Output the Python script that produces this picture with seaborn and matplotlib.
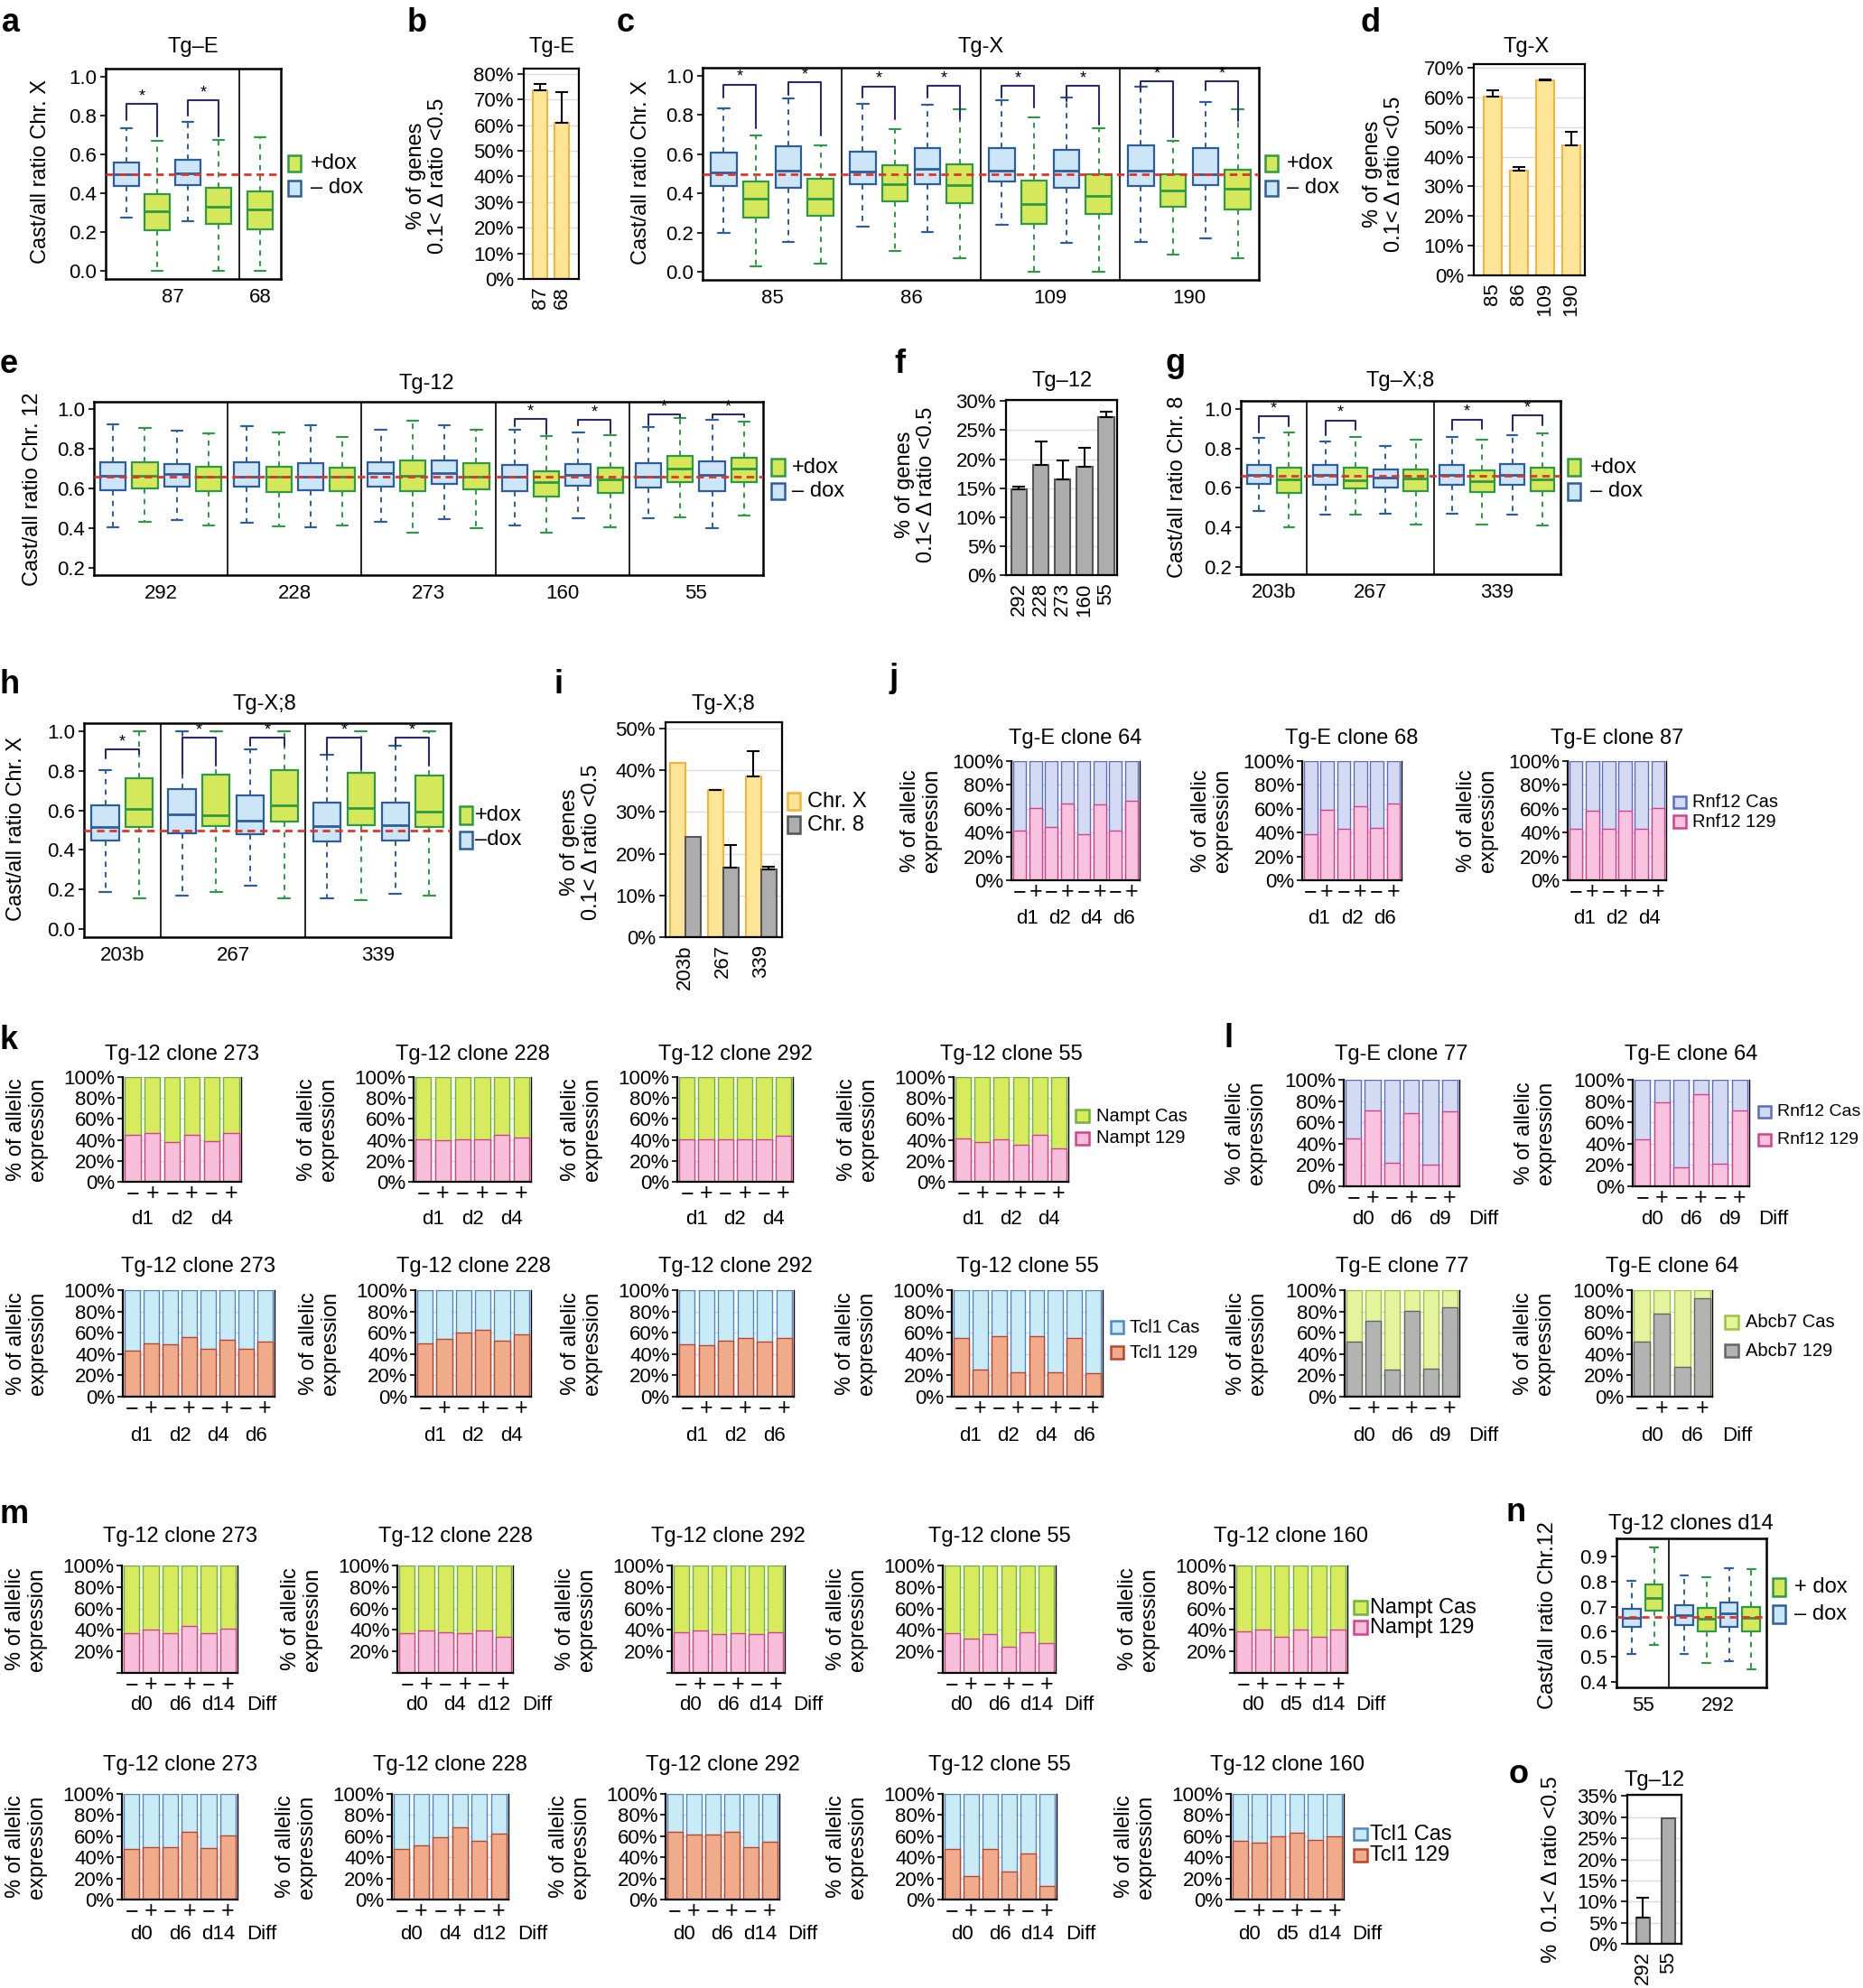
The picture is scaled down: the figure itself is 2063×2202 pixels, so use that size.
import numpy as np
import pandas as pd
import matplotlib
matplotlib.use("Agg")
import matplotlib.pyplot as plt
from matplotlib.patches import Rectangle
import seaborn as sns

# ---------------- values ----------------
# box stats: [lower whisker, Q1, median, Q3, upper whisker]
a_clones = ["87", "68"]
a_nbox = [4, 1]
a_dox = ["-", "+", "-", "+", "+"]
a_box = [[0.273, 0.436, 0.498, 0.556, 0.732],
         [0.000, 0.208, 0.308, 0.395, 0.668],
         [0.257, 0.443, 0.502, 0.574, 0.767],
         [0.000, 0.242, 0.329, 0.429, 0.675],
         [0.000, 0.216, 0.319, 0.409, 0.689]]
# significance brackets: left box, right box, top, left leg end, right leg end
a_pairs = [(0, 1, 0.858, 0.778, 0.694), (2, 3, 0.877, 0.800, 0.694)]

b_clones = ["87", "68"]
b_pct = [73.4, 60.8]
b_err = [2.7, 12.2]

c_clones = ["85", "86", "109", "190"]
c_nbox = [4, 4, 4, 4]
c_dox = ["-", "+"] * 8
c_box = [[0.198, 0.438, 0.505, 0.606, 0.835], [0.031, 0.279, 0.374, 0.461, 0.695],
         [0.154, 0.431, 0.516, 0.640, 0.882], [0.044, 0.285, 0.374, 0.476, 0.646],
         [0.229, 0.449, 0.510, 0.614, 0.856], [0.107, 0.362, 0.447, 0.544, 0.727],
         [0.203, 0.449, 0.524, 0.632, 0.853], [0.069, 0.351, 0.441, 0.547, 0.829],
         [0.240, 0.460, 0.516, 0.632, 0.876], [0.000, 0.244, 0.347, 0.464, 0.786],
         [0.148, 0.431, 0.518, 0.623, 0.889], [0.000, 0.295, 0.386, 0.496, 0.730],
         [0.151, 0.438, 0.516, 0.643, 0.945], [0.090, 0.334, 0.417, 0.499, 0.667],
         [0.171, 0.444, 0.499, 0.632, 0.867], [0.069, 0.319, 0.426, 0.522, 0.827]]
c_pairs = [(0, 1, 0.954, 0.890, 0.733), (2, 3, 0.965, 0.901, 0.695),
           (4, 5, 0.944, 0.890, 0.779), (6, 7, 0.947, 0.890, 0.779),
           (8, 9, 0.947, 0.890, 0.840), (10, 11, 0.947, 0.870, 0.751),
           (12, 13, 0.969, 0.924, 0.687), (14, 15, 0.969, 0.924, 0.771)]

d_clones = ["85", "86", "109", "190"]
d_pct = [60.3, 35.2, 65.6, 43.7]
d_err = [2.0, 1.4, 0.5, 4.7]

e_clones = ["292", "228", "273", "160", "55"]
e_nbox = [4, 4, 4, 4, 4]
e_dox = ["-", "+"] * 10
e_box = [[0.404, 0.592, 0.663, 0.730, 0.922], [0.431, 0.601, 0.662, 0.730, 0.903],
         [0.441, 0.611, 0.671, 0.724, 0.890], [0.413, 0.588, 0.657, 0.709, 0.876],
         [0.429, 0.609, 0.660, 0.731, 0.912], [0.410, 0.582, 0.657, 0.709, 0.881],
         [0.404, 0.592, 0.660, 0.728, 0.917], [0.416, 0.585, 0.660, 0.703, 0.857],
         [0.432, 0.609, 0.675, 0.733, 0.893], [0.377, 0.585, 0.663, 0.739, 0.940],
         [0.448, 0.621, 0.679, 0.742, 0.917], [0.399, 0.594, 0.660, 0.725, 0.893],
         [0.414, 0.586, 0.660, 0.718, 0.893], [0.377, 0.559, 0.633, 0.688, 0.863],
         [0.452, 0.615, 0.669, 0.722, 0.881], [0.407, 0.579, 0.645, 0.706, 0.869],
         [0.452, 0.603, 0.660, 0.725, 0.906], [0.455, 0.633, 0.701, 0.763, 0.955],
         [0.399, 0.588, 0.668, 0.736, 0.944], [0.464, 0.633, 0.701, 0.755, 0.935]]
e_pairs = [(12, 13, 0.947, 0.912, 0.872), (14, 15, 0.944, 0.917, 0.875),
           (16, 17, 0.970, 0.917, 0.960), (18, 19, 0.970, 0.955, 0.960)]

f_clones = ["292", "228", "273", "160", "55"]
f_pct = [14.8, 19.0, 16.5, 18.7, 27.3]
f_err = [0.5, 4.1, 3.2, 3.3, 0.8]

g_clones = ["203b", "267", "339"]
g_nbox = [2, 4, 4]
g_dox = ["-", "+"] * 5
g_box = [[0.482, 0.619, 0.665, 0.718, 0.855], [0.403, 0.573, 0.645, 0.701, 0.881],
         [0.467, 0.616, 0.665, 0.715, 0.837], [0.464, 0.596, 0.639, 0.703, 0.858],
         [0.470, 0.604, 0.654, 0.695, 0.812], [0.416, 0.584, 0.650, 0.695, 0.843],
         [0.470, 0.614, 0.665, 0.718, 0.860], [0.415, 0.579, 0.634, 0.691, 0.845],
         [0.467, 0.616, 0.665, 0.720, 0.866], [0.409, 0.584, 0.642, 0.701, 0.875]]
g_pairs = [(0, 1, 0.962, 0.881, 0.912), (2, 3, 0.942, 0.866, 0.893),
           (6, 7, 0.947, 0.896, 0.901), (8, 9, 0.966, 0.890, 0.916)]

h_clones = ["203b", "267", "339"]
h_nbox = [2, 4, 4]
h_dox = ["-", "+"] * 5
h_box = [[0.189, 0.447, 0.515, 0.624, 0.803], [0.156, 0.515, 0.606, 0.761, 1.000],
         [0.170, 0.485, 0.579, 0.706, 1.000], [0.189, 0.520, 0.576, 0.779, 1.000],
         [0.220, 0.479, 0.550, 0.674, 0.906], [0.156, 0.545, 0.624, 0.803, 1.000],
         [0.156, 0.445, 0.520, 0.639, 0.879], [0.147, 0.523, 0.611, 0.788, 1.000],
         [0.179, 0.448, 0.527, 0.639, 0.927], [0.170, 0.515, 0.595, 0.776, 1.000]]
h_pairs = [(0, 1, 0.906, 0.864, 0.886), (2, 3, 0.965, 0.785, 0.826),
           (4, 5, 0.965, 0.924, 0.924), (6, 7, 0.967, 0.879, 0.806),
           (8, 9, 0.967, 0.924, 0.826)]

i_clones = ["203b", "267", "339"]
i_chrx = [41.8, 35.2, 38.5]
i_chrx_err = [0.0, 0.1, 6.0]
i_chr8 = [24.1, 16.6, 16.2]
i_chr8_err = [0.0, 5.5, 0.7]

# allelic expression: share of the 129 allele (%), rest is Cas
j_titles = ["Tg-E clone 64", "Tg-E clone 68", "Tg-E clone 87"]
j_days = [["d1", "d2", "d4", "d6"], ["d1", "d2", "d6"], ["d1", "d2", "d4"]]
j_rnf12_129 = [[41.3, 60.3, 44.6, 64.6, 38.5, 63.5, 41.8, 66.8],
               [38.5, 59.0, 43.0, 62.0, 43.8, 64.3],
               [43.0, 58.2, 43.5, 58.7, 43.0, 60.3]]

k_titles = ["Tg-12 clone 273", "Tg-12 clone 228", "Tg-12 clone 292", "Tg-12 clone 55"]
k_nampt_days = [["d1", "d2", "d4"]] * 4
k_nampt_129 = [[44.4, 46.7, 37.8, 44.4, 38.6, 46.4],
               [40.9, 39.5, 40.9, 40.9, 44.7, 42.1],
               [40.1, 40.9, 40.6, 40.1, 40.1, 44.1],
               [41.8, 38.0, 40.9, 35.2, 44.7, 31.7]]
k_tcl1_days = [["d1", "d2", "d4", "d6"], ["d1", "d2", "d4"], ["d1", "d2", "d6"], ["d1", "d2", "d4", "d6"]]
k_tcl1_129 = [[43.1, 49.6, 49.0, 56.1, 45.3, 53.8, 45.3, 52.1],
              [50.4, 54.4, 60.1, 62.9, 52.7, 58.4],
              [49.3, 48.7, 52.7, 55.2, 51.6, 55.2],
              [55.2, 25.8, 56.7, 22.7, 57.2, 22.7, 55.2, 21.8]]

l_titles = ["Tg-E clone 77", "Tg-E clone 64"]
l_rnf12_days = [["d0", "d6", "d9"], ["d0", "d6", "d9"]]
l_rnf12_129 = [[45.2, 71.2, 22.3, 68.4, 20.3, 70.3],
               [43.8, 78.8, 17.5, 86.4, 21.2, 71.2]]
l_abcb7_days = [["d0", "d6", "d9"], ["d0", "d6"]]
l_abcb7_129 = [[51.8, 71.6, 25.8, 80.2, 26.3, 83.8],
               [51.3, 77.6, 28.0, 92.4]]

m_titles = ["Tg-12 clone 273", "Tg-12 clone 228", "Tg-12 clone 292", "Tg-12 clone 55", "Tg-12 clone 160"]
m_days = [["d0", "d6", "d14"], ["d0", "d4", "d12"], ["d0", "d6", "d14"], ["d0", "d6", "d14"], ["d0", "d5", "d14"]]
m_nampt_129 = [[37.3, 40.1, 37.3, 43.7, 37.3, 41.5],
               [36.8, 39.6, 38.2, 36.8, 39.6, 33.2],
               [37.9, 39.6, 36.2, 37.3, 36.2, 37.9],
               [37.3, 32.1, 36.2, 24.3, 38.2, 27.6],
               [39.0, 40.1, 34.0, 40.1, 34.0, 40.1]]
m_tcl1_129 = [[47.6, 49.6, 49.6, 63.7, 49.0, 60.9],
              [48.2, 51.3, 59.2, 68.8, 55.2, 62.0],
              [63.7, 61.8, 61.5, 63.7, 49.9, 54.7],
              [47.6, 22.1, 47.6, 26.3, 43.3, 13.0],
              [55.5, 54.1, 59.8, 63.2, 56.1, 59.8]]

n_clones = ["55", "292"]
n_nbox = [2, 4]
n_dox = ["-", "+"] * 3
n_box = [[0.511, 0.621, 0.657, 0.693, 0.803], [0.546, 0.685, 0.733, 0.789, 0.936],
         [0.511, 0.627, 0.666, 0.707, 0.825], [0.475, 0.603, 0.651, 0.694, 0.816],
         [0.484, 0.621, 0.672, 0.717, 0.855], [0.450, 0.600, 0.657, 0.699, 0.849]]

o_clones = ["292", "55"]
o_pct = [6.3, 29.8]
o_err = [4.6, 0.0]

# ---------------- style ----------------
sns.set_style("ticks")
plt.rcParams["font.family"] = ["Liberation Sans", "DejaVu Sans"]
plt.rcParams["axes.edgecolor"] = "black"
plt.rcParams["xtick.color"] = "black"
plt.rcParams["ytick.color"] = "black"
plt.rcParams["text.color"] = "black"

TICK = 16
LAB = 17
LEG = 17
BLUE = ("#cde6f7", "#2c5e9e")
GREEN = ("#d5e85b", "#2e9a45")
RED = "#e3342b"
NAVY = "#2b2b6b"
YELLOW = ("#fde598", "#f2b43e")
GRAY = ("#adadad", "#555555")
GENE = {
    "Rnf12": ("#d5daf3", "#5a6ec0", "#f8c3de", "#d4418e"),
    "Nampt": ("#d8ea5e", "#6bb53c", "#f8bfdb", "#d4418e"),
    "Tcl1": ("#c9ebf5", "#4f86c5", "#f0ab8b", "#b9462f"),
    "Abcb7": ("#e5f39d", "#9dc441", "#b3b3b3", "#666666"),
}

W, H = 2063, 2202
fig = plt.figure(figsize=(W / 100, H / 100), dpi=100)
fig.patch.set_facecolor("white")


def add_ax(l, t, r, b):
    return fig.add_axes([l / W, 1 - b / H, (r - l) / W, (b - t) / H])


def ftext(x, y, s, **kw):
    return fig.text(x / W, 1 - y / H, s, **kw)


def letter(x, y, s):
    ftext(x, y, s, fontsize=26, fontweight="bold", ha="left", va="baseline")


def legend_px(x0, x1, rows, tx, entries, fs=LEG):
    for (y0, y1), (lab, fc, ec) in zip(rows, entries):
        fig.add_artist(Rectangle((x0 / W, 1 - y1 / H), (x1 - x0) / W, (y1 - y0) / H,
                                 transform=fig.transFigure, facecolor=fc, edgecolor=ec, lw=1.8))
        ftext(tx, (y0 + y1) / 2, lab, ha="left", va="center", fontsize=fs)


def ylab(x, y, s, fs=LAB):
    ftext(x, y, s, rotation=90, ha="center", va="center", fontsize=fs,
          multialignment="center", linespacing=1.15)


def box_panel(ax, nbox, clones, dox, stats, ylim, yticks, ref, pairs=(), pad=0.3):
    pos, centers, seps = [], [], []
    start = 0.0
    for n in nbox:
        pos += [start + pad / 2 + 0.5 + i for i in range(n)]
        centers.append(start + (n + pad) / 2)
        start += n + pad
        seps.append(start)
    pos = np.array(pos)
    for flag, (fc, ec) in (("-", BLUE), ("+", GREEN)):
        idx = [i for i, d in enumerate(dox) if d == flag]
        bst = [dict(whislo=stats[i][0], q1=stats[i][1], med=stats[i][2],
                    q3=stats[i][3], whishi=stats[i][4]) for i in idx]
        ax.bxp(bst, positions=list(pos[idx]), widths=0.8, capwidths=0.35,
               showfliers=False, patch_artist=True, manage_ticks=False,
               boxprops=dict(facecolor=fc, edgecolor=ec, linewidth=1.6),
               whiskerprops=dict(color=ec, linestyle=(0, (3, 3)), linewidth=1.4),
               capprops=dict(color=ec, linewidth=1.6),
               medianprops=dict(color=ec, linewidth=2))
    for s in seps[:-1]:
        ax.axvline(s, color="black", lw=1.2)
    ax.axhline(ref, color=RED, ls=(0, (3, 2)), lw=2, zorder=6)
    for l, r, top, yl, yr in pairs:
        ax.plot([pos[l], pos[l], pos[r], pos[r]], [yl, top, top, yr], color=NAVY, lw=1.5, zorder=7)
        ax.text((pos[l] + pos[r]) / 2, top, "*", ha="center", va="bottom", fontsize=13)
    ax.set_xlim(0, start)
    ax.set_ylim(*ylim)
    ax.set_xticks(centers)
    ax.set_xticklabels(clones)
    ax.set_yticks(yticks)
    ax.set_yticklabels([f"{v:.1f}" for v in yticks])
    ax.tick_params(axis="x", length=0, pad=7, labelsize=TICK)
    ax.tick_params(axis="y", length=4, width=1.2, pad=3, labelsize=TICK)
    for sp in ax.spines.values():
        sp.set_linewidth(1.8)


def pct_finish(ax, ymax, step, xlim):
    ax.set_ylim(0, ymax)
    ticks = np.arange(0, ymax + 0.01, step)
    ax.set_yticks(ticks)
    ax.set_yticklabels([f"{int(v)}%" for v in ticks])
    ax.yaxis.grid(True, color="#dcdcdc", lw=1)
    ax.set_axisbelow(True)
    ax.set_xlim(*xlim)
    ax.set_xlabel("")
    ax.set_ylabel("")
    ax.tick_params(axis="x", length=0, pad=6, labelsize=TICK, labelrotation=90)
    ax.tick_params(axis="y", length=5, width=1.2, pad=3, labelsize=TICK)
    for sp in ax.spines.values():
        sp.set_linewidth(1.6)


def add_err(ax, patches, errs):
    for p, e in zip(patches, errs):
        if e > 0:
            ax.errorbar(p.get_x() + p.get_width() / 2, p.get_height(), yerr=[[0], [e]],
                        fmt="none", ecolor="black", elinewidth=1.5, capsize=5, capthick=1.5)


def pct_panel(ax, clones, pct, err, colors, ymax, step, xlim, width):
    sns.barplot(x=clones, y=pct, color=colors[0], edgecolor=colors[1], linewidth=1.5,
                saturation=1, width=width, errorbar=None, ax=ax)
    add_err(ax, ax.patches, err)
    pct_finish(ax, ymax, step, xlim)


def stack_panel(ax, vals, days, gene, day_dy, diff=False, zero_label=True):
    cas_fc, cas_ec, fc129, ec129 = GENE[gene]
    n = len(vals)
    cats = [str(i) for i in range(n)]
    sns.barplot(x=cats, y=[100] * n, color=cas_fc, edgecolor=cas_ec, linewidth=1,
                saturation=1, width=0.8, errorbar=None, ax=ax)
    sns.barplot(x=cats, y=vals, color=fc129, edgecolor=ec129, linewidth=1,
                saturation=1, width=0.8, errorbar=None, ax=ax)
    ax.set_xlim(-0.5, n - 0.5)
    ax.set_ylim(0, 100)
    ticks = [0, 20, 40, 60, 80, 100]
    ax.set_yticks(ticks)
    ax.set_yticklabels([(f"{t}%" if (t or zero_label) else "") for t in ticks])
    ax.yaxis.grid(True, color="#d8d8d8", lw=1)
    ax.set_axisbelow(True)
    ax.set_xticks(range(n))
    ax.set_xticklabels(["\u2212", "+"] * (n // 2))
    ax.set_xlabel("")
    ax.set_ylabel("")
    ax.tick_params(axis="x", length=0, pad=1, labelsize=18)
    ax.tick_params(axis="y", length=4, width=1.2, pad=2, labelsize=TICK)
    ax.spines["top"].set_visible(False)
    ax.spines["left"].set_linewidth(1.6)
    ax.spines["bottom"].set_linewidth(1.6)
    ax.spines["right"].set_linewidth(1.0)
    for i, d in enumerate(days):
        ax.annotate(d, xy=(2 * i + 0.5, 0), xycoords=("data", "axes fraction"),
                    xytext=(0, -day_dy), textcoords="offset pixels",
                    ha="center", va="center", fontsize=TICK, annotation_clip=False)
    if diff:
        ax.annotate("Diff", xy=(n + 0.75, 0), xycoords=("data", "axes fraction"),
                    xytext=(0, -day_dy), textcoords="offset pixels",
                    ha="center", va="center", fontsize=TICK, annotation_clip=False)


def gene_legend(gene, x0, x1, rows, tx, fs=14.5):
    cas_fc, cas_ec, fc129, ec129 = GENE[gene]
    legend_px(x0, x1, rows, tx, [(f"{gene} Cas", cas_fc, cas_ec), (f"{gene} 129", fc129, ec129)], fs)


def dox_legend(x0, x1, rows, tx, labels):
    legend_px(x0, x1, rows, tx, [(labels[0], *GREEN), (labels[1], *BLUE)])


# ---------------- row 1: a-d ----------------
ax = add_ax(117, 76, 311, 309)
box_panel(ax, a_nbox, a_clones, a_dox, a_box, (-0.04, 1.04), [0, 0.2, 0.4, 0.6, 0.8, 1.0], 0.5, a_pairs, pad=0.35)
ftext(214, 52, "Tg\u2013E", ha="center", va="center", fontsize=LAB)
ylab(45, 190, "Cast/all ratio Chr. X")
dox_legend(319, 333, [(172, 190), (200, 217)], 344, ["+dox", "\u2013 dox"])
letter(2, 35, "a")

ax = add_ax(580, 76, 641, 309)
pct_panel(ax, b_clones, b_pct, b_err, YELLOW, 82, 10, (-0.75, 1.79), 0.67)
ftext(611, 52, "Tg-E", ha="center", va="center", fontsize=LAB)
ylab(473, 195, "% of genes\n0.1< \u0394 ratio <0.5")
letter(451, 35, "b")

ax = add_ax(778, 75, 1394, 310)
box_panel(ax, c_nbox, c_clones, c_dox, c_box, (-0.04, 1.04), [0, 0.2, 0.4, 0.6, 0.8, 1.0], 0.5, c_pairs)
ftext(1086, 52, "Tg-X", ha="center", va="center", fontsize=LAB)
ylab(710, 191, "Cast/all ratio Chr. X")
dox_legend(1401, 1415, [(172, 190), (200, 217)], 1425, ["+dox", "\u2013 dox"])
letter(683, 35, "c")

ax = add_ax(1632, 71, 1755, 305)
pct_panel(ax, d_clones, d_pct, d_err, YELLOW, 71.2, 10, (-0.72, 3.52), 0.7)
ftext(1690, 52, "Tg-X", ha="center", va="center", fontsize=LAB)
ylab(1532, 193, "% of genes\n0.1< \u0394 ratio <0.5")
letter(1506, 35, "d")

# ---------------- row 2: e-g ----------------
ax = add_ax(104, 445, 845, 637)
box_panel(ax, e_nbox, e_clones, e_dox, e_box, (0.165, 1.035), [0.2, 0.4, 0.6, 0.8, 1.0], 0.66, e_pairs, pad=0.2)
ftext(472, 425, "Tg-12", ha="center", va="center", fontsize=LAB)
ylab(36, 542, "Cast/all ratio Chr. 12")
dox_legend(854, 869, [(508, 527), (535, 553)], 877, ["+dox", "\u2013 dox"])
letter(0, 413, "e")

ax = add_ax(1114, 443, 1237, 637)
pct_panel(ax, f_clones, f_pct, f_err, GRAY, 30.2, 5, (-0.6, 4.5), 0.72)
ftext(1176, 422, "Tg\u201312", ha="center", va="center", fontsize=LAB)
ylab(1014, 537, "% of genes\n0.1< \u0394 ratio <0.5")
letter(990, 413, "f")

ax = add_ax(1374, 444, 1728, 636)
box_panel(ax, g_nbox, g_clones, g_dox, g_box, (0.163, 1.041), [0.2, 0.4, 0.6, 0.8, 1.0], 0.66, g_pairs, pad=0.2)
ftext(1551, 422, "Tg\u2013X;8", ha="center", va="center", fontsize=LAB)
ylab(1304, 539, "Cast/all ratio Chr. 8")
dox_legend(1736, 1750, [(508, 527), (535, 554)], 1761, ["+dox", "\u2013 dox"])
letter(1291, 412, "g")

# ---------------- row 3: h-j ----------------
ax = add_ax(93, 801, 499, 1038)
box_panel(ax, h_nbox, h_clones, h_dox, h_box, (-0.04, 1.04), [0, 0.2, 0.4, 0.6, 0.8, 1.0], 0.5, h_pairs, pad=0.25)
ftext(293, 780, "Tg-X;8", ha="center", va="center", fontsize=LAB)
ylab(18, 918, "Cast/all ratio Chr. X")
dox_legend(509, 523, [(893, 913), (921, 940)], 526, ["+dox", "\u2013dox"])
letter(0, 768, "h")

ax = add_ax(737, 800, 866, 1038)
df_i = pd.DataFrame({"clone": i_clones * 2,
                     "chrom": ["Chr. X"] * len(i_clones) + ["Chr. 8"] * len(i_clones),
                     "pct": i_chrx + i_chr8})
sns.barplot(data=df_i, x="clone", y="pct", hue="chrom", palette=[YELLOW[0], GRAY[0]],
            saturation=1, width=0.8, errorbar=None, linewidth=1.5, legend=False, ax=ax)
for cont, ec, errs in zip(ax.containers, [YELLOW[1], GRAY[1]], [i_chrx_err, i_chr8_err]):
    for p in cont:
        p.set_edgecolor(ec)
    add_err(ax, cont, errs)
pct_finish(ax, 51.5, 10, (-0.52, 2.55))
ftext(801, 780, "Tg-X;8", ha="center", va="center", fontsize=LAB)
ylab(643, 933, "% of genes\n0.1< \u0394 ratio <0.5")
legend_px(872, 886, [(878, 897), (904, 923)], 894, [("Chr. X", *YELLOW), ("Chr. 8", *GRAY)])
letter(614, 768, "i")

j_boxes = [(1120, 843, 1262, 975), (1442, 843, 1552, 975), (1736, 843, 1845, 975)]
for (l, t, r, b), title, vals, days in zip(j_boxes, j_titles, j_rnf12_129, j_days):
    ax = add_ax(l, t, r, b)
    stack_panel(ax, vals, days, "Rnf12", 43)
    ftext((l + r) / 2, 818, title, ha="center", va="center", fontsize=LAB)
    ylab(l - 100, (t + b) / 2, "% of allelic\nexpression")
gene_legend("Rnf12", 1853, 1867, [(882, 895), (903, 917)], 1874)
letter(985, 761, "j")

# ---------------- row 4: k, l ----------------
k_top = [(136, 1193, 267, 1309), (458, 1193, 588, 1309), (750, 1193, 878, 1309), (1056, 1193, 1183, 1309)]
for (l, t, r, b), title, vals, days in zip(k_top, k_titles, k_nampt_129, k_nampt_days):
    ax = add_ax(l, t, r, b)
    stack_panel(ax, vals, days, "Nampt", 41)
    ftext((l + r) / 2, 1168, title, ha="center", va="center", fontsize=LAB)
    ylab(l - 106, (t + b) / 2, "% of allelic\nexpression")
gene_legend("Nampt", 1191, 1206, [(1229, 1243), (1254, 1268)], 1214)

k_bot = [(136, 1429, 304, 1547), (460, 1429, 588, 1547), (750, 1429, 879, 1547), (1054, 1429, 1221, 1547)]
for (l, t, r, b), title, vals, days in zip(k_bot, k_titles, k_tcl1_129, k_tcl1_days):
    ax = add_ax(l, t, r, b)
    stack_panel(ax, vals, days, "Tcl1", 43)
    ftext((l + r) / 2, 1403, title, ha="center", va="center", fontsize=LAB)
    ylab(l - 106, (t + b) / 2, "% of allelic\nexpression")
gene_legend("Tcl1", 1230, 1244, [(1463, 1477), (1491, 1505)], 1251)
letter(0, 1162, "k")

l_top = [(1488, 1196, 1616, 1314), (1808, 1196, 1937, 1314)]
for (l, t, r, b), title, vals, days in zip(l_top, l_titles, l_rnf12_129, l_rnf12_days):
    ax = add_ax(l, t, r, b)
    stack_panel(ax, vals, days, "Rnf12", 36, diff=True)
    ftext((l + r) / 2, 1168, title, ha="center", va="center", fontsize=LAB)
    ylab(l - 108, (t + b) / 2, "% of allelic\nexpression")
gene_legend("Rnf12", 1947, 1961, [(1225, 1238), (1256, 1269)], 1968, fs=14)

l_bot = [(1489, 1429, 1616, 1547), (1807, 1429, 1896, 1547)]
for (l, t, r, b), title, vals, days in zip(l_bot, l_titles, l_abcb7_129, l_abcb7_days):
    ax = add_ax(l, t, r, b)
    stack_panel(ax, vals, days, "Abcb7", 43, diff=True)
    ftext((l + r) / 2, 1403, title, ha="center", va="center", fontsize=LAB)
    ylab(l - 108, (t + b) / 2, "% of allelic\nexpression")
gene_legend("Abcb7", 1910, 1925, [(1457, 1472), (1489, 1503)], 1933)
letter(1356, 1160, "l")

# ---------------- row 5: m, n, o ----------------
m_top = [(135, 1734, 263, 1853), (440, 1734, 568, 1853), (744, 1734, 869, 1853),
         (1044, 1734, 1169, 1853), (1367, 1734, 1492, 1853)]
for (l, t, r, b), title, vals, days in zip(m_top, m_titles, m_nampt_129, m_days):
    ax = add_ax(l, t, r, b)
    stack_panel(ax, vals, days, "Nampt", 35, diff=True, zero_label=False)
    ftext((l + r) / 2, 1702, title, ha="center", va="center", fontsize=LAB)
    ylab(l - 106, (t + b) / 2, "% of allelic\nexpression")
gene_legend("Nampt", 1499, 1514, [(1773, 1788), (1795, 1810)], 1517, fs=17)
letter(0, 1687, "m")

m_bot = [(135, 1987, 263, 2104), (434, 1987, 563, 2104), (737, 1987, 863, 2104),
         (1044, 1987, 1170, 2104), (1363, 1987, 1488, 2104)]
for (l, t, r, b), title, vals, days in zip(m_bot, m_titles, m_tcl1_129, m_days):
    ax = add_ax(l, t, r, b)
    stack_panel(ax, vals, days, "Tcl1", 39, diff=True)
    ftext((l + r) / 2, 1955, title, ha="center", va="center", fontsize=LAB)
    ylab(l - 106, (t + b) / 2, "% of allelic\nexpression")
gene_legend("Tcl1", 1499, 1514, [(2025, 2038), (2048, 2062)], 1517, fs=17)

ax = add_ax(1790, 1704, 1956, 1869)
box_panel(ax, n_nbox, n_clones, n_dox, n_box, (0.378, 0.972), [0.4, 0.5, 0.6, 0.7, 0.8, 0.9], 0.66, pad=0.35)
ftext(1872, 1688, "Tg-12 clones d14", ha="center", va="center", fontsize=LAB)
ylab(1714, 1789, "Cast/all ratio Chr.12")
dox_legend(1963, 1977, [(1748, 1768), (1778, 1798)], 1987, ["+ dox", "\u2013 dox"])
letter(1668, 1685, "n")

ax = add_ax(1802, 1988, 1862, 2153)
pct_panel(ax, o_clones, o_pct, o_err, GRAY, 35.3, 5, (-0.62, 1.52), 0.54)
ftext(1832, 1972, "Tg\u201312", ha="center", va="center", fontsize=LAB)
ylab(1718, 2071, "%  0.1< \u0394 ratio <0.5")
letter(1671, 1975, "o")

fig.savefig("out.png", dpi=100, facecolor="white")
